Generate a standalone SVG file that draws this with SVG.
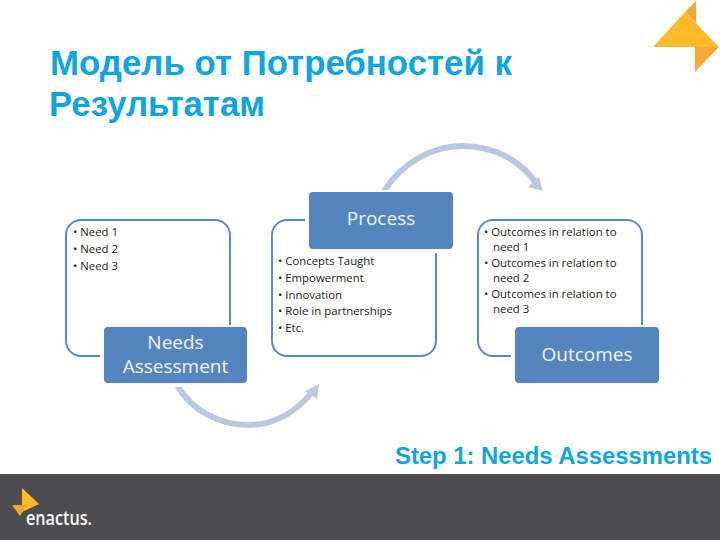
<svg xmlns="http://www.w3.org/2000/svg" width="720" height="540" viewBox="0 0 720 540">
<style>
.title{font:bold 34.500px "Liberation Sans",Arial,sans-serif;fill:#0ea5e0}
.step{font:bold 23px "Liberation Sans",Arial,sans-serif;fill:#0ea5e0}
.card{fill:#fff;stroke:#5b87bd;stroke-width:2}
.head{fill:#5585bf}
.hl{font:19px "Open Sans","Noto Sans",sans-serif;fill:#f2f5fa;text-anchor:middle}
.b{font:11.400px "Open Sans","Noto Sans",sans-serif;fill:#222}
.arc{fill:none;stroke:#b9c8e0;stroke-width:6}
.ah{fill:#b9c8e0}
</style>
<rect width="720" height="540" fill="#fff"/>
<rect y="474" width="720" height="66" fill="#4d4d4f"/>
<g id="logo-top">
<polygon points="685,12 696,1 696,23" fill="#f5a733"/>
<polygon points="653,47 685,12 719,47" fill="#fdbb27"/>
<polygon points="695,47 719,47 695,72" fill="#f8ab37"/>
</g>
<g id="logo-bottom">
<polygon points="22,488 39,504 22,512" fill="#fdbb27"/>
<polygon points="12,505 27,505 20,516" fill="#f5a733"/>
<text x="26" y="525" style="font:600 19px 'Open Sans','Noto Sans',sans-serif;fill:#fff" textLength="66" lengthAdjust="spacingAndGlyphs">enactus.</text>
</g>
<text class="title" x="50" y="75" textLength="462" lengthAdjust="spacingAndGlyphs">Модель от Потребностей к</text>
<text class="title" x="49" y="116" textLength="216" lengthAdjust="spacingAndGlyphs">Результатам</text>
<text class="step" x="395" y="464" textLength="317" lengthAdjust="spacingAndGlyphs">Step 1: Needs Assessments</text>
<g id="connectors">
<path class="arc" d="M177,385C192,412 222,425 248,425C276,425 298,410 313,391"/>
<polygon class="ah" points="319,384 317,399 305,391"/>
<path class="arc" d="M384,191C402,163 432,146 462,146C495,146 521,161 536,183"/>
<polygon class="ah" points="543,191 528,187 539,177"/>
</g>
<g id="node-needs">
<rect class="card" x="66" y="220" width="164" height="136" rx="15"/>
<text class="b" x="73" y="236">• Need 1</text>
<text class="b" x="73" y="253">• Need 2</text>
<text class="b" x="73" y="270">• Need 3</text>
<rect x="100" y="325" width="151" height="62" fill="#fff"/>
<rect class="head" x="104" y="327" width="143" height="56" rx="4"/>
<text class="hl" x="175.500" y="349">Needs</text>
<text class="hl" x="175.500" y="373">Assessment</text>
</g>
<g id="node-process">
<rect class="card" x="272" y="220" width="164" height="136" rx="15"/>
<rect x="305" y="190" width="152" height="63" fill="#fff"/>
<rect class="head" x="309" y="192" width="144" height="57" rx="4"/>
<text class="hl" x="381" y="225">Process</text>
<text class="b" x="278" y="265">• Concepts Taught</text>
<text class="b" x="278" y="282">• Empowerment</text>
<text class="b" x="278" y="299">• Innovation</text>
<text class="b" x="278" y="315">• Role in partnerships</text>
<text class="b" x="278" y="332">• Etc.</text>
</g>
<g id="node-outcomes">
<rect class="card" x="478" y="220" width="164" height="136" rx="15"/>
<text class="b" x="484" y="236">• Outcomes in relation to</text>
<text class="b" x="493" y="251">need 1</text>
<text class="b" x="484" y="267">• Outcomes in relation to</text>
<text class="b" x="493" y="282">need 2</text>
<text class="b" x="484" y="298">• Outcomes in relation to</text>
<text class="b" x="493" y="313">need 3</text>
<rect x="511" y="325" width="152" height="62" fill="#fff"/>
<rect class="head" x="515" y="327" width="144" height="56" rx="4"/>
<text class="hl" x="587" y="361">Outcomes</text>
</g>
</svg>
